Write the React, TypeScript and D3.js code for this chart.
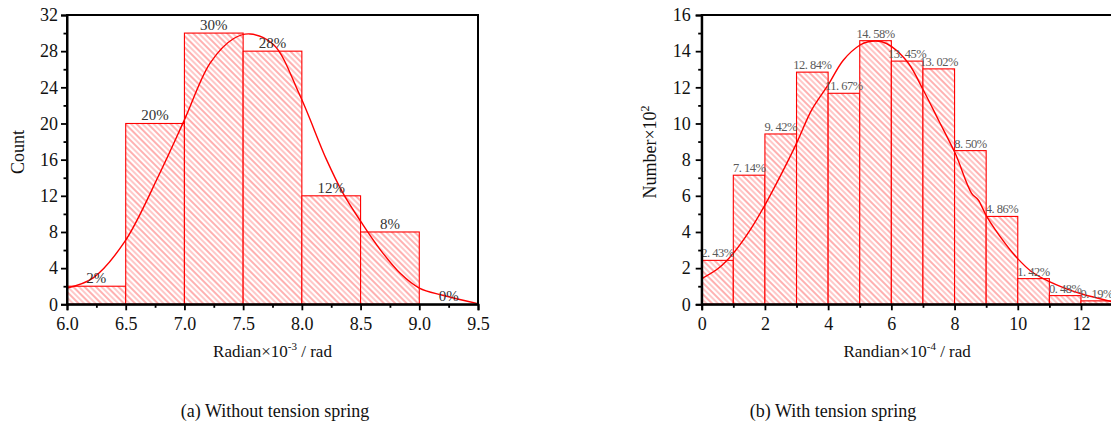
import React, { useRef, useEffect } from "react";
import * as d3 from "d3";

const W = 1111;
const H = 426;

// (a) Without tension spring
const edgesA = [6.0, 6.5, 7.0, 7.5, 8.0, 8.5, 9.0];
const countsA = [2, 20, 30, 28, 12, 8, 0];
const pctA = ["2%", "20%", "30%", "28%", "12%", "8%", "0%"];
const fitAx = [6.0, 6.22, 6.49, 6.79, 7.0, 7.22, 7.42, 7.56, 7.76, 7.98, 8.21, 8.35, 8.51, 8.67, 8.84, 9.0, 9.2, 9.49];
const fitAy = [1.8, 2.9, 6.9, 14.5, 20.4, 26.7, 29.4, 29.9, 28.7, 23.2, 16, 12.3, 9.0, 6.0, 3.4, 1.8, 1.0, 0.1];
const xTicksA = [6.0, 6.5, 7.0, 7.5, 8.0, 8.5, 9.0, 9.5];
const yTicksA = [0, 4, 8, 12, 16, 20, 24, 28, 32];

// (b) With tension spring
const edgesB = [0, 1, 2, 3, 4, 5, 6, 7, 8, 9, 10, 11, 12];
const countsB = [2.43, 7.14, 9.42, 12.84, 11.67, 14.58, 13.45, 13.02, 8.5, 4.86, 1.42, 0.48, 0.19];
const pctB = ["2. 43%", "7. 14%", "9. 42%", "12. 84%", "11. 67%", "14. 58%", "13. 45%", "13. 02%", "8. 50%", "4. 86%", "1. 42%", "0. 48%", "0. 19%"];
const fitBx = [0.02, 0.53, 1.0, 1.53, 2.0, 2.53, 3.0, 3.48, 4.0, 4.48, 5.01, 5.27, 5.7, 6.01, 6.54, 7.01, 7.49, 8.02, 8.54, 8.75, 9.02, 9.6, 9.99, 10.44, 11.0, 11.5, 12.03, 12.97];
const fitBy = [1.44, 1.99, 2.82, 4.1, 5.49, 7.24, 8.9, 10.75, 12.13, 13.5, 14.34, 14.52, 14.52, 14.25, 13.33, 11.85, 10.19, 8.35, 6.14, 5.77, 4.85, 3.37, 2.54, 1.8, 1.25, 0.88, 0.57, 0.15];
const xTicksB = [0, 2, 4, 6, 8, 10, 12];
const yTicksB = [0, 2, 4, 6, 8, 10, 12, 14, 16];

const FONT = "'Liberation Serif', 'Times New Roman', serif";

function drawPanel(svg, o) {
  const x = d3.scaleLinear().domain(o.xDomain).range([o.left, o.right]);
  const y = d3.scaleLinear().domain(o.yDomain).range([o.bottom, o.top]);
  const g = svg.append("g");

  // bars
  g.selectAll("rect.bar")
    .data(o.edges.map((e, i) => ({ e, v: o.counts[i] })).filter((d) => d.v > 0))
    .join("rect")
    .attr("class", "bar")
    .attr("x", (d) => x(d.e))
    .attr("y", (d) => y(d.v))
    .attr("width", (d) => x(d.e + o.binW) - x(d.e))
    .attr("height", (d) => y(0) - y(d.v))
    .attr("fill", "url(#hatch)")
    .attr("stroke", "#ff0000")
    .attr("stroke-width", 1.1);

  // fitted curve
  const line = d3
    .line()
    .x((d) => x(d[0]))
    .y((d) => y(d[1]))
    .curve(d3.curveCatmullRom);
  g.append("path")
    .datum(o.fitX.map((v, i) => [v, o.fitY[i]]))
    .attr("d", line)
    .attr("fill", "none")
    .attr("stroke", "#ff0000")
    .attr("stroke-width", 1.4);

  // percentage labels
  g.selectAll("text.pct")
    .data(o.edges.map((e, i) => ({ e, v: o.counts[i], t: o.labels[i] })))
    .join("text")
    .attr("class", "pct")
    .attr("x", (d) => x(d.e + o.binW / 2))
    .attr("y", (d) => y(d.v) - 3)
    .attr("text-anchor", "middle")
    .attr("font-family", FONT)
    .attr("font-size", o.pctSize)
    .attr("letter-spacing", o.pctSpacing)
    .attr("fill", o.pctColor)
    .text((d) => d.t);

  // frame
  g.append("rect")
    .attr("x", o.left)
    .attr("y", o.top)
    .attr("width", o.right - o.left)
    .attr("height", o.bottom - o.top)
    .attr("fill", "none")
    .attr("stroke", "#000")
    .attr("stroke-width", 2);

  // x axis
  const xa = g.append("g").attr("transform", `translate(0,${o.bottom})`);
  xa.call(d3.axisBottom(x).tickValues(o.xMinor).tickSize(3.5).tickFormat(() => ""));
  xa.call((s) => s.select(".domain").remove());
  const xb = g.append("g").attr("transform", `translate(0,${o.bottom})`);
  xb.call(d3.axisBottom(x).tickValues(o.xTicks).tickSize(6).tickPadding(7).tickFormat(o.xFmt));
  xb.select(".domain").attr("stroke-width", 2);

  // y axis
  const ya = g.append("g").attr("transform", `translate(${o.left},0)`);
  ya.call(d3.axisLeft(y).tickValues(o.yMinor).tickSize(3.5).tickFormat(() => ""));
  ya.call((s) => s.select(".domain").remove());
  const yb = g.append("g").attr("transform", `translate(${o.left},0)`);
  yb.call(d3.axisLeft(y).tickValues(o.yTicks).tickSize(6).tickPadding(o.yPad).tickFormat(d3.format("d")));
  yb.select(".domain").attr("stroke-width", 2);

  g.selectAll(".tick line").attr("stroke", "#000").attr("stroke-width", 1.8);
  g.selectAll(".tick text")
    .attr("font-family", FONT)
    .attr("font-size", 18)
    .attr("fill", "#111");

  // axis titles
  const xt = g
    .append("text")
    .attr("x", (o.left + o.right) / 2)
    .attr("y", 357)
    .attr("text-anchor", "middle")
    .attr("font-family", FONT)
    .attr("font-size", 17)
    .attr("fill", "#111");
  xt.append("tspan").text(o.xTitle[0]);
  xt.append("tspan").attr("dy", -7).attr("font-size", 11).text(o.xTitle[1]);
  xt.append("tspan").attr("dy", 7).text(o.xTitle[2]);

  const yt = g
    .append("text")
    .attr("transform", `translate(${o.yTitleX},152) rotate(-90)`)
    .attr("text-anchor", "middle")
    .attr("font-family", FONT)
    .attr("font-size", 18)
    .attr("fill", "#111");
  yt.append("tspan").text(o.yTitle[0]);
  if (o.yTitle[1]) {
    yt.append("tspan").attr("dy", -7).attr("font-size", 12).text(o.yTitle[1]);
  }

  // caption
  g.append("text")
    .attr("x", o.capX)
    .attr("y", 417)
    .attr("text-anchor", "middle")
    .attr("font-family", FONT)
    .attr("font-size", 18)
    .attr("fill", "#111")
    .text(o.caption);
}

export default function App() {
  const svgRef = useRef(null);

  useEffect(() => {
    const svg = d3.select(svgRef.current);
    svg.selectAll("*").remove();

    const defs = svg.append("defs");
    const pat = defs
      .append("pattern")
      .attr("id", "hatch")
      .attr("patternUnits", "userSpaceOnUse")
      .attr("width", 8)
      .attr("height", 8)
      .attr("patternTransform", "rotate(-45)");
    pat.append("rect").attr("width", 8).attr("height", 8).attr("fill", "#fff");
    pat.append("line").attr("x1", 1).attr("x2", 1).attr("y1", 0).attr("y2", 8)
      .attr("stroke", "#ff6262").attr("stroke-width", 1);
    pat.append("line").attr("x1", 5).attr("x2", 5).attr("y1", 0).attr("y2", 8)
      .attr("stroke", "#ff9494").attr("stroke-width", 1);

    drawPanel(svg, {
      left: 67, right: 478, top: 15, bottom: 304.3,
      xDomain: [6.0, 9.5], yDomain: [0, 32], binW: 0.5,
      edges: edgesA, counts: countsA, labels: pctA,
      fitX: fitAx, fitY: fitAy,
      xTicks: xTicksA, yTicks: yTicksA,
      xMinor: d3.range(6.25, 9.5, 0.5), yMinor: d3.range(2, 32, 4),
      xFmt: d3.format(".1f"), yPad: 3,
      pctSize: 15, pctSpacing: 0, pctColor: "#333",
      xTitle: ["Radian×10", "-3", " / rad"],
      yTitle: ["Count"], yTitleX: 24,
      caption: "(a) Without tension spring", capX: 275,
    });

    drawPanel(svg, {
      left: 701.7, right: 1112.6, top: 15, bottom: 304.3,
      xDomain: [0, 13], yDomain: [0, 16], binW: 1,
      edges: edgesB, counts: countsB, labels: pctB,
      fitX: fitBx, fitY: fitBy,
      xTicks: xTicksB, yTicks: yTicksB,
      xMinor: d3.range(1, 13, 2), yMinor: d3.range(1, 16, 2),
      xFmt: d3.format("d"), yPad: 5,
      pctSize: 12.5, pctSpacing: -0.5, pctColor: "#5a5a5a",
      xTitle: ["Randian×10", "-4", " / rad"],
      yTitle: ["Number×10", "2"], yTitleX: 656,
      caption: "(b) With tension spring", capX: 833,
    });
  }, []);

  return (
    <svg
      ref={svgRef}
      width={W}
      height={H}
      style={{ position: "absolute", left: 0, top: 0, background: "#fff" }}
    />
  );
}
